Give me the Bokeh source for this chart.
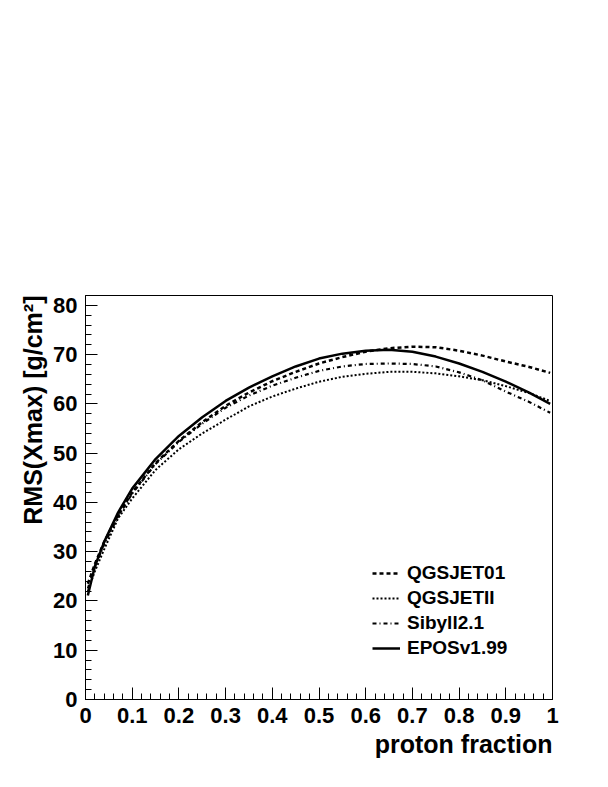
import numpy as np
from bokeh.plotting import figure
from bokeh.models import (Range1d, FixedTicker, CustomJSTickFormatter, Title,
                          Legend, LegendItem, ColumnDataSource)
from bokeh.embed import file_html
from bokeh.resources import INLINE

# ---------------- data ----------------
proton_fraction = [0.005, 0.02, 0.04, 0.07, 0.1, 0.15, 0.2, 0.25, 0.3, 0.35, 0.4,
                   0.45, 0.5, 0.55, 0.6, 0.65, 0.7, 0.75, 0.8, 0.85, 0.9, 0.95, 0.995]

rms_qgsjet01 = [23.5, 27.5, 32.0, 37.5, 42.0, 48.0, 52.5, 56.3, 59.6, 62.3, 64.6,
                66.5, 68.2, 69.5, 70.6, 71.3, 71.6, 71.5, 70.8, 69.8, 68.6, 67.5, 66.3]
rms_qgsjetII = [22.0, 26.0, 30.5, 36.8, 40.8, 46.6, 50.8, 54.0, 56.8, 59.5, 61.5,
                63.1, 64.5, 65.5, 66.1, 66.5, 66.5, 66.2, 65.6, 64.8, 63.6, 62.2, 60.6]
rms_sibyll21 = [22.5, 27.0, 31.5, 37.2, 41.8, 47.8, 52.3, 56.0, 59.2, 61.7, 63.7,
                65.3, 66.7, 67.6, 68.1, 68.2, 68.1, 67.6, 66.4, 64.8, 62.5, 60.4, 58.2]
rms_epos199 = [21.1, 27.0, 32.0, 38.0, 42.8, 48.8, 53.5, 57.3, 60.6, 63.3, 65.6,
               67.6, 69.2, 70.2, 70.8, 71.0, 70.6, 69.6, 68.2, 66.5, 64.5, 62.3, 60.0]

series_names = ["QGSJET01", "QGSJETII", "Sibyll2.1", "EPOSv1.99"]

x_ticks = [0, 0.1, 0.2, 0.3, 0.4, 0.5, 0.6, 0.7, 0.8, 0.9, 1.0]
x_tick_labels = ["0", "0.1", "0.2", "0.3", "0.4", "0.5", "0.6", "0.7", "0.8", "0.9", "1"]
y_ticks = [0, 10, 20, 30, 40, 50, 60, 70, 80]
y_tick_labels = ["0", "10", "20", "30", "40", "50", "60", "70", "80"]

x_title = "proton fraction"
y_title = "RMS(Xmax) [g/cm²]"

# ---------------- figure ----------------
FONT = "Liberation Sans"

p = figure(output_backend="svg", toolbar_location=None,
           frame_width=467, frame_height=404,
           min_border_left=85, min_border_top=295, min_border_right=48,
           min_border_bottom=80,
           x_range=Range1d(0, 1), y_range=Range1d(0, 82))

p.background_fill_color = "white"
p.border_fill_color = "white"
p.outline_line_color = "black"
p.outline_line_width = 1
p.grid.visible = False

x_minor = [float(v) for v in np.round(np.arange(0, 1.0001, 0.02), 4)]
y_minor = [float(v) for v in np.arange(0, 83, 2)]

p.xaxis.ticker = FixedTicker(ticks=x_ticks, minor_ticks=x_minor)
p.yaxis.ticker = FixedTicker(ticks=y_ticks, minor_ticks=y_minor)

fmt_code = """
let best = 0, bd = 1e9;
for (let i = 0; i < tv.length; i++) {
  const d = Math.abs(tv[i] - tick);
  if (d < bd) { bd = d; best = i; }
}
return tl[best];
"""
p.xaxis.formatter = CustomJSTickFormatter(args=dict(tv=x_ticks, tl=x_tick_labels), code=fmt_code)
p.yaxis.formatter = CustomJSTickFormatter(args=dict(tv=y_ticks, tl=y_tick_labels), code=fmt_code)

for ax in (p.xaxis, p.yaxis):
    ax.major_tick_in = 12
    ax.major_tick_out = 0
    ax.minor_tick_in = 6
    ax.minor_tick_out = 0
    ax.axis_line_color = "black"
    ax.major_tick_line_color = "black"
    ax.minor_tick_line_color = "black"
    ax.major_label_text_font = FONT
    ax.major_label_text_font_style = "bold"
    ax.major_label_text_font_size = "22px"
    ax.major_label_text_color = "black"
p.xaxis.major_label_standoff = 8
p.yaxis.major_label_standoff = 8

# ---------------- curves ----------------
src = ColumnDataSource(dict(x=proton_fraction, q1=rms_qgsjet01, q2=rms_qgsjetII,
                            sib=rms_sibyll21, epos=rms_epos199))

r_q1 = p.line("x", "q1", source=src, line_color="black", line_width=2.5, line_dash="4 3")
r_q2 = p.line("x", "q2", source=src, line_color="black", line_width=2, line_dash="2 2")
r_sib = p.line("x", "sib", source=src, line_color="black", line_width=2.2, line_dash="4 3 1 3")
r_epos = p.line("x", "epos", source=src, line_color="black", line_width=2.5)

legend = Legend(items=[LegendItem(label=series_names[0], renderers=[r_q1]),
                       LegendItem(label=series_names[1], renderers=[r_q2]),
                       LegendItem(label=series_names[2], renderers=[r_sib]),
                       LegendItem(label=series_names[3], renderers=[r_epos])],
                location=(287, 40), padding=0, margin=0, spacing=3,
                glyph_width=28, glyph_height=22, label_height=22, label_standoff=7,
                label_text_font=FONT, label_text_font_style="bold",
                label_text_font_size="19px", label_text_color="black",
                border_line_color=None, background_fill_alpha=0)
p.add_layout(legend, "center")

# ---------------- axis titles ----------------
p.add_layout(Title(text=x_title, align="right", text_font=FONT,
                   text_font_style="bold", text_font_size="25px",
                   text_color="black", standoff=5), "below")
p.add_layout(Title(text=y_title, align="right", text_font=FONT,
                   text_font_style="bold", text_font_size="25px",
                   text_color="black", standoff=7), "left")

open("out.html", "w").write(file_html(p, INLINE))
